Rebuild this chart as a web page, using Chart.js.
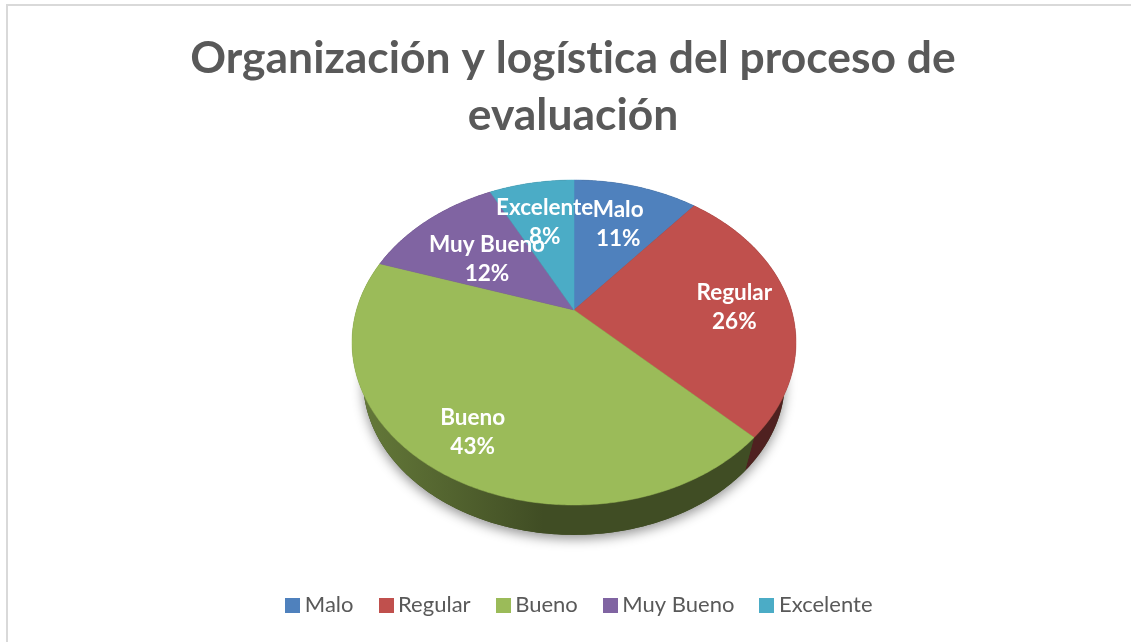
<!DOCTYPE html>
<html><head><meta charset="utf-8">
<style>
html,body{margin:0;padding:0;background:#fff;overflow:hidden;width:1131px;height:642px}
#frame{position:absolute;left:6px;top:4px;width:1125px;height:638px;border-left:2px solid #d9d9d9;border-top:2px solid #d9d9d9;overflow:hidden}
#c{position:absolute;left:0;top:0}
</style>
<script src="https://cdn.jsdelivr.net/npm/chart.js@4"></script>
</head><body>
<div id="frame"><canvas id="c" width="1130" height="636" style="width:1130px;height:636px"></canvas></div>
<script>
const categories = ['Malo','Regular','Bueno','Muy Bueno','Excelente'];
const seriesValues = [11,26.4,42.7,12.4,7.5];
const sliceColors = ['#4f81bd','#c0504d','#9bbb59','#8064a2','#4bacc6'];
const titleLines = ['Organización y logística del proceso de','evaluación'];

const FONT = 'Lato, Carlito, "Open Sans", sans-serif';
// 3D perspective of the pie (canvas coordinates)
const view = {cx:566, apexY:304, R:217.5, a:156, k:0.2, midY:336.5, baseScale:0.95, baseDrop:38};
const labelPolar = [{r:.655,d:.01},{r:.74,d:.025},{r:.79,d:-.015},{r:.55,d:-.03},{r:.65,d:0}];
const legendShift = 9;

function top3d(t, r){
  const u=r*Math.cos(t), v=r*Math.sin(t), w=1-view.k*v;
  return {x:view.cx+view.R*u/w, y:view.apexY+view.a*v/w};
}
function base3d(t){
  const p=top3d(t,1);
  return {x:view.cx+view.baseScale*(p.x-view.cx), y:view.midY+view.baseDrop+view.baseScale*(p.y-view.midY)};
}
function shade(hex,f){
  const n=parseInt(hex.slice(1),16);
  return `rgb(${Math.round((n>>16&255)*f)},${Math.round((n>>8&255)*f)},${Math.round((n&255)*f)})`;
}
function fade(hex,alpha){
  const n=parseInt(hex.slice(1),16);
  return `rgba(${n>>16&255},${n>>8&255},${n&255},${alpha})`;
}
function arcSteps(s,e){return Math.max(2,Math.ceil((e-s)/0.01));}

const pie3d = {
  id:'pie3d',
  afterLayout(chart){ chart.legend.left+=legendShift; chart.legend.right+=legendShift; },
  beforeDraw(chart){ chart.ctx.letterSpacing='0.01px'; },
  beforeDatasetDraw(chart,args){
    const ctx=chart.ctx, arcs=args.meta.data;
    // soft shadow under the pie
    ctx.save();
    ctx.shadowColor='rgba(0,0,0,.42)'; ctx.shadowBlur=12; ctx.shadowOffsetY=4;
    ctx.fillStyle='#404d24';
    ctx.beginPath();
    for(let i=0;i<=360;i++){const p=base3d(i*Math.PI/180); i?ctx.lineTo(p.x,p.y):ctx.moveTo(p.x,p.y);}
    ctx.closePath(); ctx.fill();
    ctx.restore();
    // side walls
    arcs.forEach((el,i)=>{
      const s=el.startAngle,e=el.endAngle,n=arcSteps(s,e);
      ctx.beginPath();
      for(let j=0;j<=n;j++){const p=top3d(s+(e-s)*j/n,1); j?ctx.lineTo(p.x,p.y):ctx.moveTo(p.x,p.y);}
      for(let j=n;j>=0;j--){const p=base3d(s+(e-s)*j/n); ctx.lineTo(p.x,p.y);}
      ctx.closePath();
      ctx.fillStyle=shade(sliceColors[i],.41); ctx.fill();
      const g=ctx.createLinearGradient(345,0,535,0);
      g.addColorStop(0,fade(sliceColors[i],.42)); g.addColorStop(1,fade(sliceColors[i],0));
      ctx.fillStyle=g; ctx.fill();
    });
    // top faces
    arcs.forEach((el,i)=>{
      const s=el.startAngle,e=el.endAngle,n=arcSteps(s,e),a=top3d(0,0);
      ctx.beginPath(); ctx.moveTo(a.x,a.y);
      for(let j=0;j<=n;j++){const p=top3d(s+(e-s)*j/n,1); ctx.lineTo(p.x,p.y);}
      ctx.closePath();
      ctx.fillStyle=sliceColors[i]; ctx.fill();
      ctx.strokeStyle=sliceColors[i]; ctx.lineWidth=.5; ctx.stroke();
    });
    return false;
  },
  afterDatasetsDraw(chart){
    const ctx=chart.ctx, arcs=chart.getDatasetMeta(0).data, total=seriesValues.reduce((x,y)=>x+y,0);
    ctx.save();
    ctx.fillStyle='#fff'; ctx.font='bold 22.5px '+FONT; ctx.textAlign='center'; ctx.textBaseline='middle';
    arcs.forEach((el,i)=>{
      const m=(el.startAngle+el.endAngle)/2+labelPolar[i].d, p=top3d(m,labelPolar[i].r);
      ctx.fillText(categories[i],p.x,p.y-14.5);
      ctx.fillText(Math.round(seriesValues[i]/total*100)+'%',p.x,p.y+14.5);
    });
    ctx.restore();
  }
};

function swatch(color){
  const c=document.createElement('canvas'); c.width=15; c.height=15;
  const g=c.getContext('2d'); g.fillStyle=color; g.fillRect(0,0,15,15); return c;
}

new Chart(document.getElementById('c'),{
  type:'pie',
  data:{labels:categories,datasets:[{data:seriesValues,backgroundColor:sliceColors,borderWidth:0}]},
  plugins:[pie3d],
  options:{
    responsive:false,animation:false,
    layout:{padding:{top:24,bottom:16}},
    plugins:{
      tooltip:{enabled:false},
      title:{display:true,text:titleLines,color:'#595959',font:{family:FONT,size:44.4,weight:'bold',lineHeight:1.285},padding:{top:0,bottom:10}},
      legend:{position:'bottom',
        labels:{font:{family:FONT,size:22},color:'#595959',usePointStyle:true,pointStyleWidth:2,boxHeight:15,padding:31.5,
          generateLabels(chart){
            return categories.map((t,i)=>({text:t,fillStyle:sliceColors[i],strokeStyle:sliceColors[i],lineWidth:0,pointStyle:swatch(sliceColors[i]),index:i,fontColor:'#595959'}));
          }}
      }
    }
  }
});
</script>
</body></html>
